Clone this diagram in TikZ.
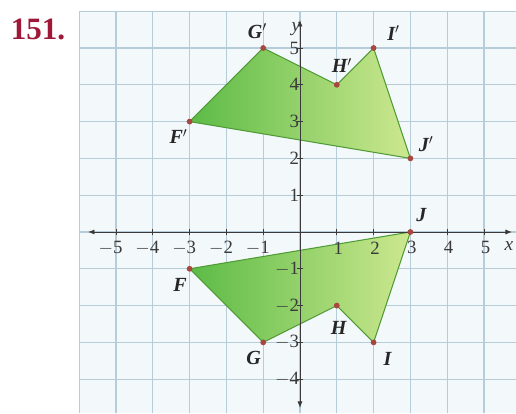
\documentclass[tikz,border=0pt]{standalone}
\usepackage{fontspec}
\setmainfont{Liberation Serif}
\usetikzlibrary{arrows.meta}
\definecolor{gridc}{HTML}{B6CCD8}
\definecolor{bgc}{HTML}{F3F8FB}
\definecolor{edgec}{HTML}{4E9A34}
\definecolor{darkg}{HTML}{5CBB46}
\definecolor{lightg}{HTML}{CDE88F}
\definecolor{dotc}{HTML}{A8473F}
\definecolor{numc}{HTML}{A01838}
\definecolor{axc}{HTML}{3A3A3A}
\tikzset{
  gridline/.style={draw=gridc,line width=0.8pt},
  axisline/.style={draw=axc,line width=0.7pt,-{Latex[length=5pt,width=4pt]}},
  ticklab/.style={font=\fontsize{14.5}{16}\selectfont,text=axc,inner sep=0pt},
  vlab/.style={font=\fontsize{15.5}{17}\selectfont\bfseries\itshape,text=black!85,inner sep=0pt},
  vdot/.style={circle,fill=dotc,inner sep=0pt,minimum size=4.5pt},
  poly/.style={draw=edgec,line width=0.8pt,left color=darkg,right color=lightg},
}
\begin{document}
\begin{tikzpicture}
\useasboundingbox (-8.152,-4.923) rectangle (5.870,6.304);
\fill[white] (-8.152,-4.923) rectangle (5.870,6.304);
\fill[bgc] (-6,-4.923) rectangle (5.870,6);
% grid
\foreach \x in {-6,...,5} {\draw[gridline] (\x,-4.923) -- (\x,6);}
\foreach \y in {-4,...,6} {\draw[gridline] (-6,\y) -- (5.870,\y);}
% polygons
\draw[poly] (-3,3) -- (-1,5) -- (1,4) -- (2,5) -- (3,2) -- cycle;
\draw[poly] (-3,-1) -- (-1,-3) -- (1,-2) -- (2,-3) -- (3,0) -- cycle;
% axes
\coordinate (xl) at (-5.76,0);
\coordinate (xr) at (5.76,0);
\coordinate (yb) at (0,-4.78);
\coordinate (yt) at (0,5.76);
\draw[axisline] (0,0) -- (xr);
\draw[axisline] (0,0) -- (xl);
\draw[axisline] (0,0) -- (yb);
\draw[axisline] (0,0) -- (yt);
\foreach \x in {-5,...,5} {\draw[axc,line width=0.6pt] (\x,-0.09) -- (\x,0.09);}
\foreach \y in {-4,...,5} {\draw[axc,line width=0.6pt] (-0.09,\y) -- (0.09,\y);}
\foreach \x in {-5,...,-1} {\node[ticklab] (tx\x) at (\x+0.05,-0.43) {\llap{$-$}\the\numexpr-\x\relax};}
\foreach \x in {1,...,5} {\node[ticklab] (tx\x) at (\x+0.04,-0.43) {\x};}
\foreach \y in {1,...,5} {\node[ticklab,anchor=east] (ty\y) at (-0.02,\y) {\y};}
\foreach \y in {-4,...,-1} {\node[ticklab,anchor=east] (ty\y) at (-0.02,\y) {$-$\the\numexpr-\y\relax};}
\node[ticklab,font=\fontsize{15}{17}\selectfont\itshape] (xlab) at (5.68,-0.38) {x};
\node[ticklab,font=\fontsize{15}{17}\selectfont\itshape] (ylab) at (-0.11,5.52) {y};
% vertices
\node[vdot] (Fp) at (-3,3) {};
\node[vdot] (Gp) at (-1,5) {};
\node[vdot] (Hp) at (1,4) {};
\node[vdot] (Ip) at (2,5) {};
\node[vdot] (Jp) at (3,2) {};
\node[vdot] (F) at (-3,-1) {};
\node[vdot] (G) at (-1,-3) {};
\node[vdot] (H) at (1,-2) {};
\node[vdot] (I) at (2,-3) {};
\node[vdot] (J) at (3,0) {};
\node[vlab] (lFp) at (-3.30,2.59) {F$'$};
\node[vlab] (lGp) at (-1.16,5.46) {G$'$};
\node[vlab] (lHp) at (1.14,4.52) {H$'$};
\node[vlab] (lIp) at (2.54,5.41) {I$'$};
\node[vlab] (lJp) at (3.43,2.38) {J$'$};
\node[vlab] (lF) at (-3.26,-1.43) {F};
\node[vlab] (lG) at (-1.26,-3.43) {G};
\node[vlab] (lH) at (1.05,-2.60) {H};
\node[vlab] (lI) at (2.38,-3.44) {I};
\node[vlab] (lJ) at (3.30,0.46) {J};
\node[font=\fontsize{24}{26}\selectfont\bfseries,text=numc,inner sep=0pt] (num) at (-7.12,5.50) {151.};
\end{tikzpicture}
\end{document}
